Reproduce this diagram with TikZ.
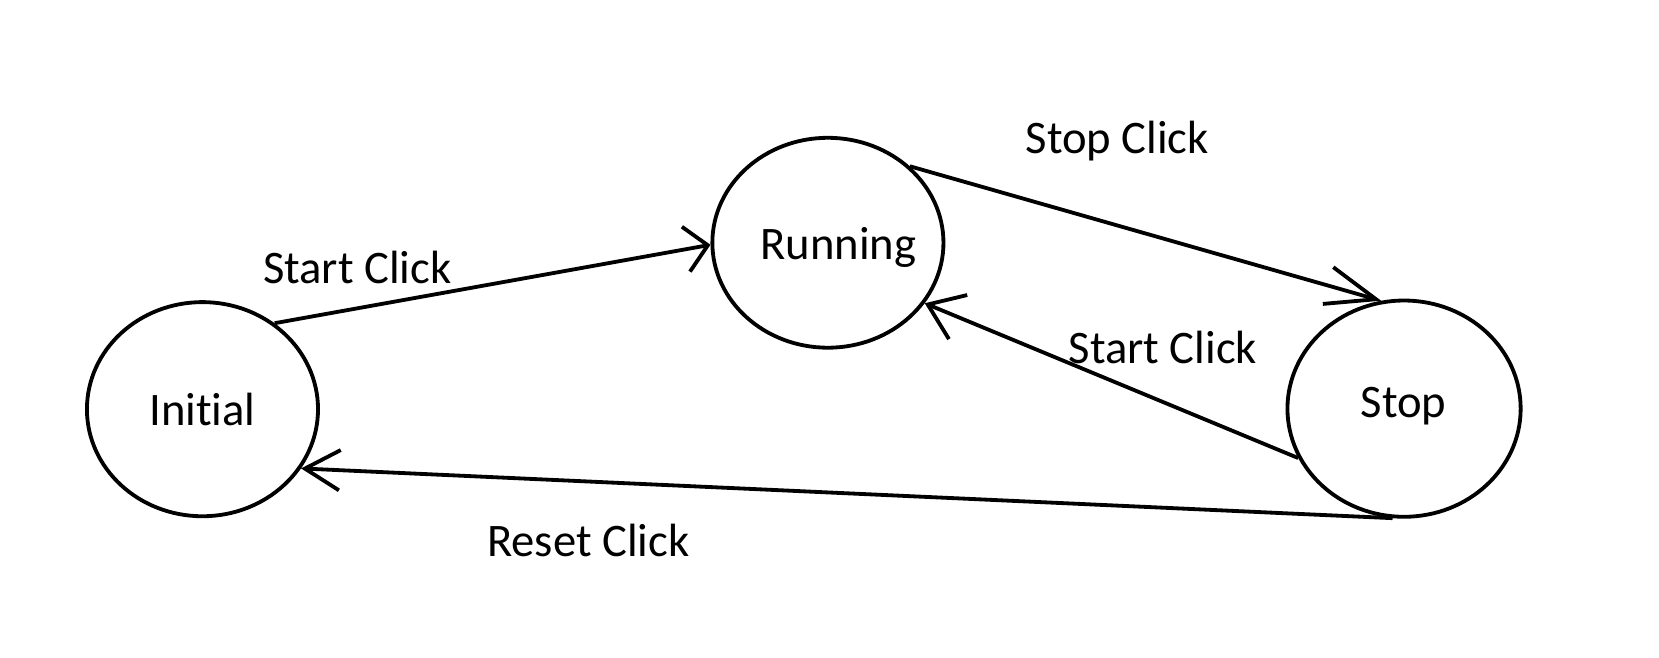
\documentclass[tikz,border=0pt]{standalone}
\usepackage{fontspec}
\setmainfont[Ligatures=NoCommon]{Carlito}
\usetikzlibrary{shapes.geometric,arrows.meta}
\begin{document}
\begin{tikzpicture}[x=1pt,y=-1pt,
  state/.style={draw,ellipse,line width=3.6pt,inner sep=0pt,font=\fontsize{44}{53}\selectfont},
  conn/.style 2 args={line width=3.6pt,-{Straight Barb[length=#1,width=#2,line width=3.6pt]}},
  lbl/.style={font=\fontsize{44}{53}\selectfont,inner sep=0pt}]
\useasboundingbox (0,0) rectangle (1565,620);
\fill[white] (0,0) rectangle (1565,620);
\node[state,minimum width=218pt,minimum height=202pt] (init) at (191,386) {};
\node[lbl] (initt) at (191,386) {Initial};
\node[state,minimum width=218pt,minimum height=198pt] (run) at (781,229) {};
\node[lbl] (runt) at (791,233) {Running};
\node[state,minimum width=220pt,minimum height=204pt] (stop) at (1324.5,385.5) {};
\node[lbl] (stopt) at (1324,383) {Stop};
\draw[conn={21pt}{43pt}] (init.50) -- (run.181);
\draw[conn={47pt}{36pt}] (run.43.5) -- (stop.102.6);
\draw[conn={31pt}{45pt}] (stop.205.7) -- (run.328.8);
\draw[conn={33pt}{38pt}] (stop.264.7) -- (init.329);
\node[lbl] (l1) at (337,252) {Start Click};
\node[lbl] (l2) at (1054,133) {Stop Click};
\node[lbl] (l3) at (1097,328) {Start Click};
\node[lbl] (l4) at (555,510) {Reset Click};
\end{tikzpicture}
\end{document}
